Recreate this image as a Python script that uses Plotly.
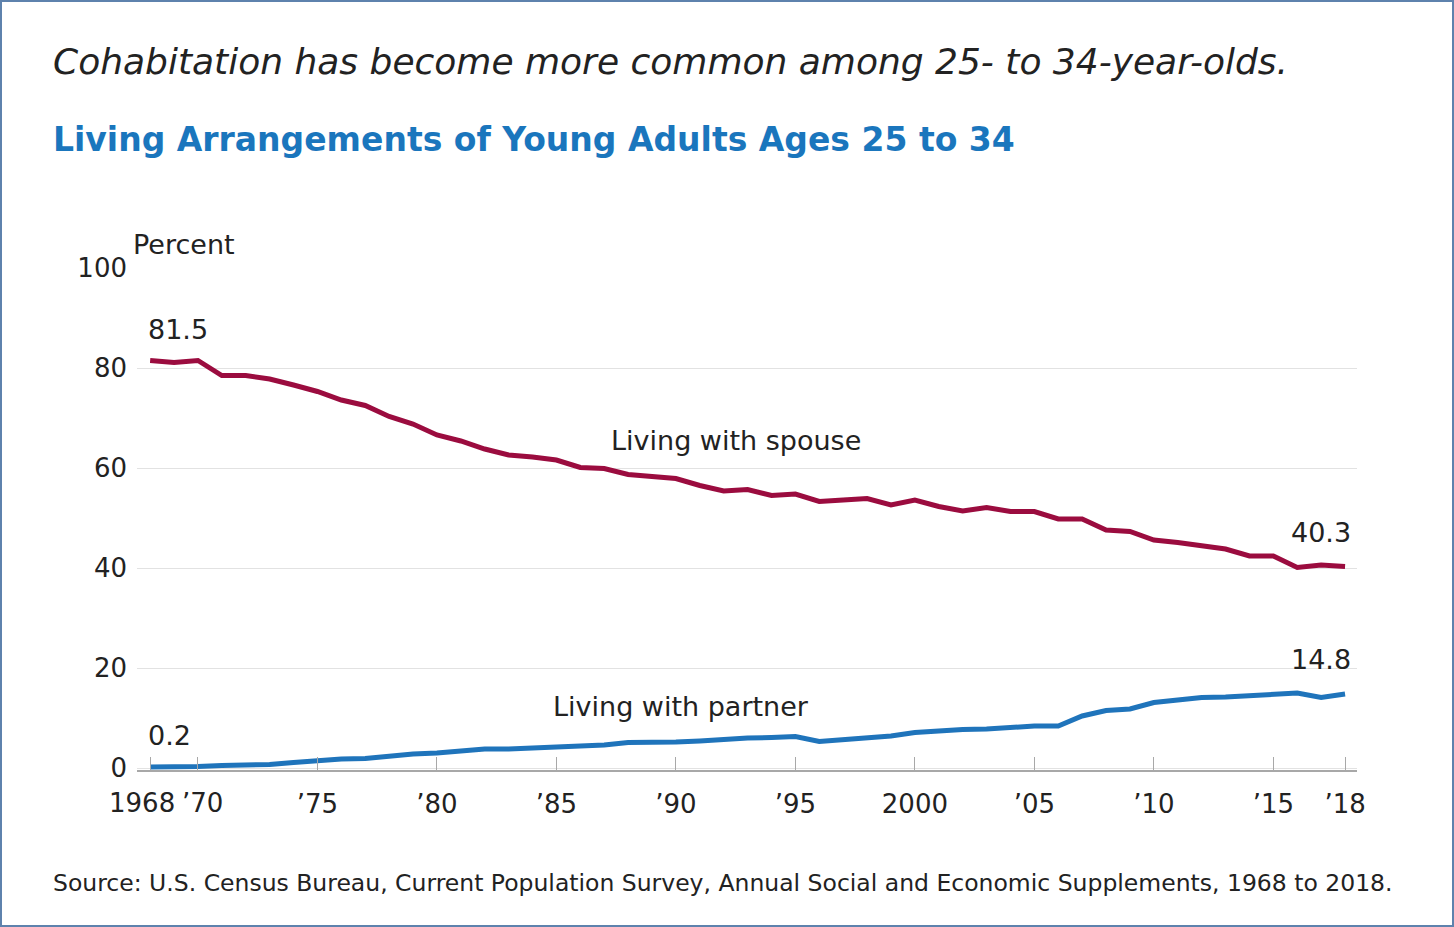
import plotly.graph_objects as go

# Living arrangements of 25- to 34-year-olds, percent, 1968-2018
years = list(range(1968, 2019))
spouse = [81.5, 81.1, 81.5, 78.5, 78.5, 77.8, 76.6, 75.3, 73.6, 72.5,
          70.3, 68.8, 66.6, 65.4, 63.8, 62.6, 62.2, 61.6, 60.1, 59.9,
          58.7, 58.4, 57.9, 56.5, 55.4, 55.7, 54.5, 54.8, 53.3, 53.6,
          53.9, 52.6, 53.6, 52.3, 51.4, 52.1, 51.3, 51.3, 49.8, 49.8,
          47.6, 47.3, 45.6, 45.1, 44.5, 43.8, 42.4, 42.4, 40.1, 40.6,
          40.3]
partner = [0.2, 0.2, 0.3, 0.5, 0.6, 0.7, 1.1, 1.5, 1.8, 1.9,
           2.4, 2.8, 3.0, 3.3, 3.8, 3.8, 4.0, 4.0, 4.2, 4.6,
           5.1, 5.1, 5.2, 5.4, 5.8, 6.0, 6.1, 6.3, 5.3, 5.6,
           6.0, 6.4, 7.1, 7.5, 7.7, 7.8, 8.1, 8.4, 8.4, 10.4,
           11.5, 11.8, 13.1, 13.6, 14.1, 14.2, 14.4, 14.6, 15.0, 14.1,
           14.8]

x_tickvals = [1968, 1970, 1975, 1980, 1985, 1990, 1995, 2000, 2005, 2010, 2015, 2018]
x_ticktext = ["1968", "\u201970", "\u201975", "\u201980", "\u201985", "\u201990", "\u201995",
              "2000", "\u201905", "\u201910", "\u201915", "\u201918"]
y_tickvals = [0, 20, 40, 60, 80, 100]

title_text = "Cohabitation has become more common among 25- to 34-year-olds."
subtitle_text = "Living Arrangements of Young Adults Ages 25 to 34"
source_text = ("Source: U.S. Census Bureau, Current Population Survey, Annual Social "
               "and Economic Supplements, 1968 to 2018.")

SPOUSE_COLOR = "#9b0c3f"
PARTNER_COLOR = "#1f74bb"
TEXT_COLOR = "#222222"
FONT = "DejaVu Sans"

W, H = 1454, 927
M_L, M_R, M_T, M_B = 137, 97, 268, 157
PW, PH = W - M_L - M_R, H - M_T - M_B


def px(x):
    return (x - M_L) / PW


def py(y):
    return (H - M_B - y) / PH


fig = go.Figure()
fig.add_trace(go.Scatter(x=years, y=spouse, mode="lines",
                         line=dict(color=SPOUSE_COLOR, width=5), hoverinfo="skip"))
fig.add_trace(go.Scatter(x=years, y=partner, mode="lines",
                         line=dict(color=PARTNER_COLOR, width=5), hoverinfo="skip"))

tick_font = dict(family=FONT, size=26, color=TEXT_COLOR)
lab_font = dict(family=FONT, size=27, color=TEXT_COLOR)
annotations = [
    # headings
    dict(x=px(51), y=py(62), xref="paper", yref="paper", xanchor="left", yanchor="middle",
         text="<i>" + title_text + "</i>", showarrow=False,
         font=dict(family=FONT, size=36, color=TEXT_COLOR)),
    dict(x=px(51), y=py(139), xref="paper", yref="paper", xanchor="left", yanchor="middle",
         text="<b>" + subtitle_text + "</b>", showarrow=False,
         font=dict(family=FONT, size=33, color="#1a76bd")),
    dict(x=px(131), y=py(244), xref="paper", yref="paper", xanchor="left", yanchor="middle",
         text="Percent", showarrow=False, font=lab_font),
    dict(x=px(51), y=py(883), xref="paper", yref="paper", xanchor="left", yanchor="middle",
         text=source_text, showarrow=False,
         font=dict(family=FONT, size=23.5, color=TEXT_COLOR)),
    # series names
    dict(x=1992.5, y=65.6, xref="x", yref="y", text="Living with spouse",
         showarrow=False, font=lab_font),
    dict(x=1990.2, y=12.4, xref="x", yref="y", text="Living with partner",
         showarrow=False, font=lab_font),
    # endpoint values
    dict(x=years[0], y=spouse[0], xref="x", yref="y", xanchor="left", yanchor="bottom",
         xshift=-4, yshift=14, text=f"{spouse[0]:.1f}", showarrow=False, font=lab_font),
    dict(x=years[0], y=partner[0], xref="x", yref="y", xanchor="left", yanchor="bottom",
         xshift=-4, yshift=14, text=f"{partner[0]:.1f}", showarrow=False, font=lab_font),
    dict(x=years[-1], y=spouse[-1], xref="x", yref="y", xanchor="right", yanchor="bottom",
         xshift=8, yshift=17, text=f"{spouse[-1]:.1f}", showarrow=False, font=lab_font),
    dict(x=years[-1], y=partner[-1], xref="x", yref="y", xanchor="right", yanchor="bottom",
         xshift=8, yshift=17, text=f"{partner[-1]:.1f}", showarrow=False, font=lab_font),
]

# the two crowded leftmost year labels are nudged apart around their ticks
label_nudge = {1968: -8, 1970: 5}
for val, txt in zip(x_tickvals, x_ticktext):
    if val in label_nudge:
        annotations.append(dict(x=val, y=0, xref="x", yref="y", xanchor="center",
                                yanchor="middle", xshift=label_nudge[val], yshift=-35,
                                text=txt, showarrow=False, font=tick_font))
axis_ticktext = ["" if v in label_nudge else t for v, t in zip(x_tickvals, x_ticktext)]

fig.update_layout(
    width=W, height=H,
    margin=dict(l=M_L, r=M_R, t=M_T, b=M_B, pad=0),
    paper_bgcolor="white", plot_bgcolor="white",
    showlegend=False,
    annotations=annotations,
    shapes=[dict(type="rect", xref="paper", yref="paper",
                 x0=px(1), x1=px(W - 1), y0=py(H - 1), y1=py(1),
                 line=dict(color="#5e82ad", width=2), layer="below")],
    font=dict(family=FONT, color=TEXT_COLOR),
)

fig.update_xaxes(
    range=[1967.45, 2018.5],
    tickvals=x_tickvals, ticktext=axis_ticktext,
    ticks="inside", ticklen=13, tickwidth=1, tickcolor="#a8a8a8",
    showline=True, linecolor="#a8a8a8", linewidth=1.5,
    showgrid=False, zeroline=False,
    ticklabelstandoff=10,
    tickfont=tick_font,
)
fig.update_yaxes(
    range=[-0.4, 100],
    tickvals=y_tickvals,
    showgrid=True, gridcolor="#e2e2e2", gridwidth=1.2,
    zeroline=False, showline=False, ticks="",
    ticklabelstandoff=9,
    tickfont=tick_font,
)

fig.write_html("out.html")
